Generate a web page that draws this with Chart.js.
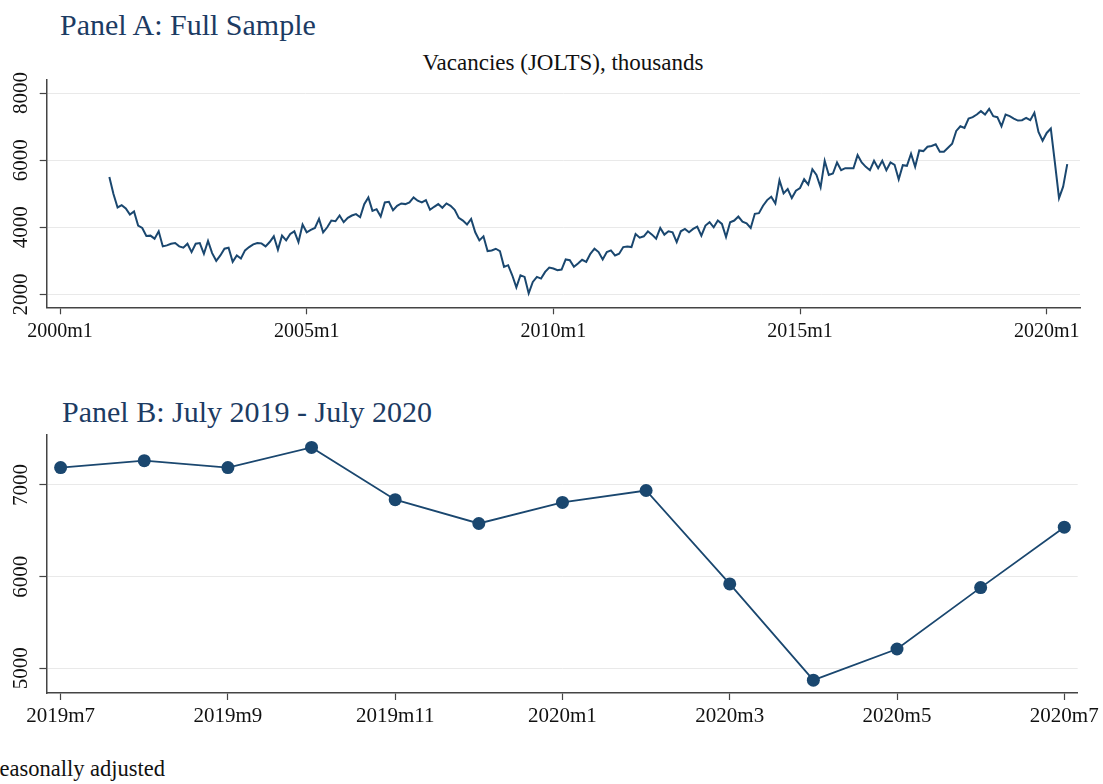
<!DOCTYPE html>
<html>
<head>
<meta charset="utf-8">
<title>Vacancies (JOLTS)</title>
<script src="https://cdn.jsdelivr.net/npm/chart.js@4.4.1/dist/chart.umd.min.js"></script>
<style>
    body { margin: 0; background: #ffffff; width: 1103px; height: 784px; overflow: hidden; position: relative; font-family: "Liberation Serif", "DejaVu Serif", serif; }
    .txt { position: absolute; white-space: nowrap; }
    .panelTitle { font-size: 30px; line-height: 30px; color: #1c3b63; }
    canvas { position: absolute; left: 0; }
</style>
</head>
<body>

<div class="txt panelTitle" style="left:60px; top:10px;">Panel A: Full Sample</div>
<div class="txt" style="left:46px; width:1034px; top:51px; text-align:center; font-size:23px; line-height:23px; color:#111;">Vacancies (JOLTS), thousands</div>
<canvas id="chartA" width="1103" height="280" style="top:70px;"></canvas>

<div class="txt panelTitle" style="left:62px; top:397px;">Panel B: July 2019 - July 2020</div>
<canvas id="chartB" width="1103" height="320" style="top:425px;"></canvas>

<div class="txt" style="left:-13px; top:758px; font-size:22.5px; line-height:22px; color:#111;">Seasonally adjusted</div>

<script>
// panel A: monthly vacancies, thousands, 2001m1 .. 2020m6
// x is counted in months since 2000m1
const firstMonthA = 12;
var vacanciesA = [
    5500, 4990, 4590, 4660, 4560, 4380, 4470, 4050, 3980, 3740, 3750, 3660,   // 2001
    3880, 3430, 3460, 3510, 3530, 3430, 3390, 3510, 3260, 3510, 3530, 3210,   // 2002
    3590, 3230, 3000, 3160, 3360, 3390, 2970, 3160, 3070, 3310, 3410, 3490,   // 2003
    3530, 3520, 3430, 3560, 3730, 3330, 3750, 3610, 3800, 3880, 3560, 4080,   // 2004
    3850, 3920, 3980, 4250, 3850, 4000, 4200, 4180, 4350, 4150, 4280, 4350,   // 2005
    4390, 4300, 4690, 4890, 4490, 4540, 4320, 4740, 4760, 4510, 4640, 4710,   // 2006
    4690, 4740, 4890, 4790, 4740, 4810, 4520, 4610, 4690, 4580, 4710, 4640,   // 2007
    4520, 4280, 4200, 4080, 4250, 3850, 3610, 3730, 3290, 3310, 3360, 3290,   // 2008
    2820, 2870, 2570, 2210, 2570, 2520, 2030, 2370, 2520, 2470, 2670, 2800,   // 2009
    2770, 2720, 2740, 3040, 3020, 2820, 2920, 3030, 2970, 3210, 3360, 3260,   // 2010
    3040, 3260, 3310, 3160, 3210, 3410, 3430, 3410, 3800, 3690, 3730, 3880,   // 2011
    3780, 3660, 3980, 3780, 3880, 3850, 3560, 3880, 3950, 3850, 3950, 4020,   // 2012
    3750, 4050, 4150, 4000, 4200, 4100, 3710, 4150, 4200, 4320, 4170, 4120,   // 2013
    3980, 4400, 4420, 4640, 4810, 4910, 4710, 5400, 5010, 5140, 4870, 5090,   // 2014
    5170, 5430, 5270, 5730, 5560, 5190, 5980, 5560, 5600, 5930, 5700, 5760,   // 2015
    5760, 5760, 6150, 5930, 5800, 5700, 5980, 5760, 5980, 5700, 5930, 5860,   // 2016
    5430, 5850, 5830, 6190, 5800, 6290, 6270, 6400, 6420, 6470, 6250, 6250,   // 2017
    6370, 6490, 6870, 7010, 6960, 7240, 7280, 7360, 7460, 7360, 7530, 7310,   // 2018
    7280, 7010, 7360, 7310, 7240, 7180, 7190, 7260, 7190, 7410, 6840, 6580,   // 2019
    6810, 6940, 5920, 4870, 5210, 5880                                        // 2020
];
var tickMonthsA = [0, 60, 120, 180, 240];
var tickLabelsA = ['2000m1', '2005m1', '2010m1', '2015m1', '2020m1'];
var yTicksA = [2000, 4000, 6000, 8000];

// panel B: July 2019 - July 2020
var monthsB = ['2019m7', '2019m8', '2019m9', '2019m10', '2019m11', '2019m12',
               '2020m1', '2020m2', '2020m3', '2020m4', '2020m5', '2020m6', '2020m7'];
var vacanciesB = [7190, 7265, 7190, 7410, 6840, 6580, 6810, 6940, 5920, 4870, 5210, 5880, 6540];
var tickIdxB = [0, 2, 4, 6, 8, 10, 12];
var yTicksB = [5000, 6000, 7000];

const navy = '#1a476f';
const axisCol = '#444444';
const gridCol = '#e9e9e9';
const fontFam = '"Liberation Serif", "DejaVu Serif", serif';

function fixTicks(list) {
    return function (scale) {
        scale.ticks = list.map(v => ({ value: v }));
    };
}

function makeScales(opt) {
    return {
        x: {
            type: 'linear',
            min: opt.xMin,
            max: opt.xMax,
            afterBuildTicks: fixTicks(opt.xTicks),
            afterFit: function (scale) { scale.height = opt.xHeight; },
            border: { display: true, color: axisCol, width: 1.5 },
            grid: { drawOnChartArea: false, drawTicks: true, tickLength: 7, tickColor: axisCol, tickWidth: 1.2 },
            ticks: {
                autoSkip: false, maxRotation: 0, minRotation: 0, padding: opt.xPad,
                color: '#111', font: { family: fontFam, size: opt.xFont },
                callback: opt.xLabel
            }
        },
        y: {
            type: 'linear',
            min: opt.yMin,
            max: opt.yMax,
            afterBuildTicks: fixTicks(opt.yTicks),
            afterFit: function (scale) { scale.width = opt.yWidth; },
            border: { display: true, color: axisCol, width: 1.5 },
            grid: { color: gridCol, lineWidth: 1, drawTicks: true, tickLength: 7, tickColor: axisCol, tickWidth: 1.2 },
            ticks: {
                autoSkip: false, minRotation: 90, maxRotation: 90, crossAlign: 'center', padding: -3,
                color: '#111', font: { family: fontFam, size: 21 },
                callback: v => String(v)
            }
        }
    };
}

// build point tables from the arrays
var pointsA = vacanciesA.map((v, i) => ({ x: firstMonthA + i, y: v }));
var pointsB = vacanciesB.map((v, i) => ({ x: i, y: v }));

var chartA = new Chart(document.getElementById('chartA'), {
    type: 'line',
    data: {
        datasets: [{
            data: pointsA,
            borderColor: navy,
            borderWidth: 2,
            pointRadius: 0,
            tension: 0,
            fill: false
        }]
    },
    options: {
        responsive: false,
        animation: false,
        layout: { padding: { top: 8, right: 23, bottom: 0, left: 0 } },
        plugins: { legend: { display: false }, tooltip: { enabled: false }, title: { display: false } },
        scales: makeScales({
            xMin: -3.24, xMax: 248.1, xTicks: tickMonthsA, xHeight: 42.7, xPad: 5, xFont: 20,
            xLabel: function (v) { var k = tickMonthsA.indexOf(v); return k >= 0 ? tickLabelsA[k] : ''; },
            yMin: 1615, yMax: 8400, yTicks: yTicksA, yWidth: 46.7
        })
    }
});

var chartB = new Chart(document.getElementById('chartB'), {
    type: 'line',
    data: {
        datasets: [{
            data: pointsB,
            borderColor: navy,
            borderWidth: 1.8,
            pointRadius: 6.5,
            pointBackgroundColor: navy,
            pointBorderColor: navy,
            pointBorderWidth: 0,
            tension: 0,
            fill: false
        }]
    },
    options: {
        responsive: false,
        animation: false,
        layout: { padding: { top: 8, right: 23, bottom: 0, left: 0 } },
        plugins: { legend: { display: false }, tooltip: { enabled: false }, title: { display: false } },
        scales: makeScales({
            xMin: -0.17, xMax: 12.16, xTicks: tickIdxB, xHeight: 52, xPad: 4, xFont: 21,
            xLabel: function (v) { return monthsB[v] || ''; },
            yMin: 4730, yMax: 7550, yTicks: yTicksB, yWidth: 46.4
        })
    }
});
</script>
</body>
</html>
